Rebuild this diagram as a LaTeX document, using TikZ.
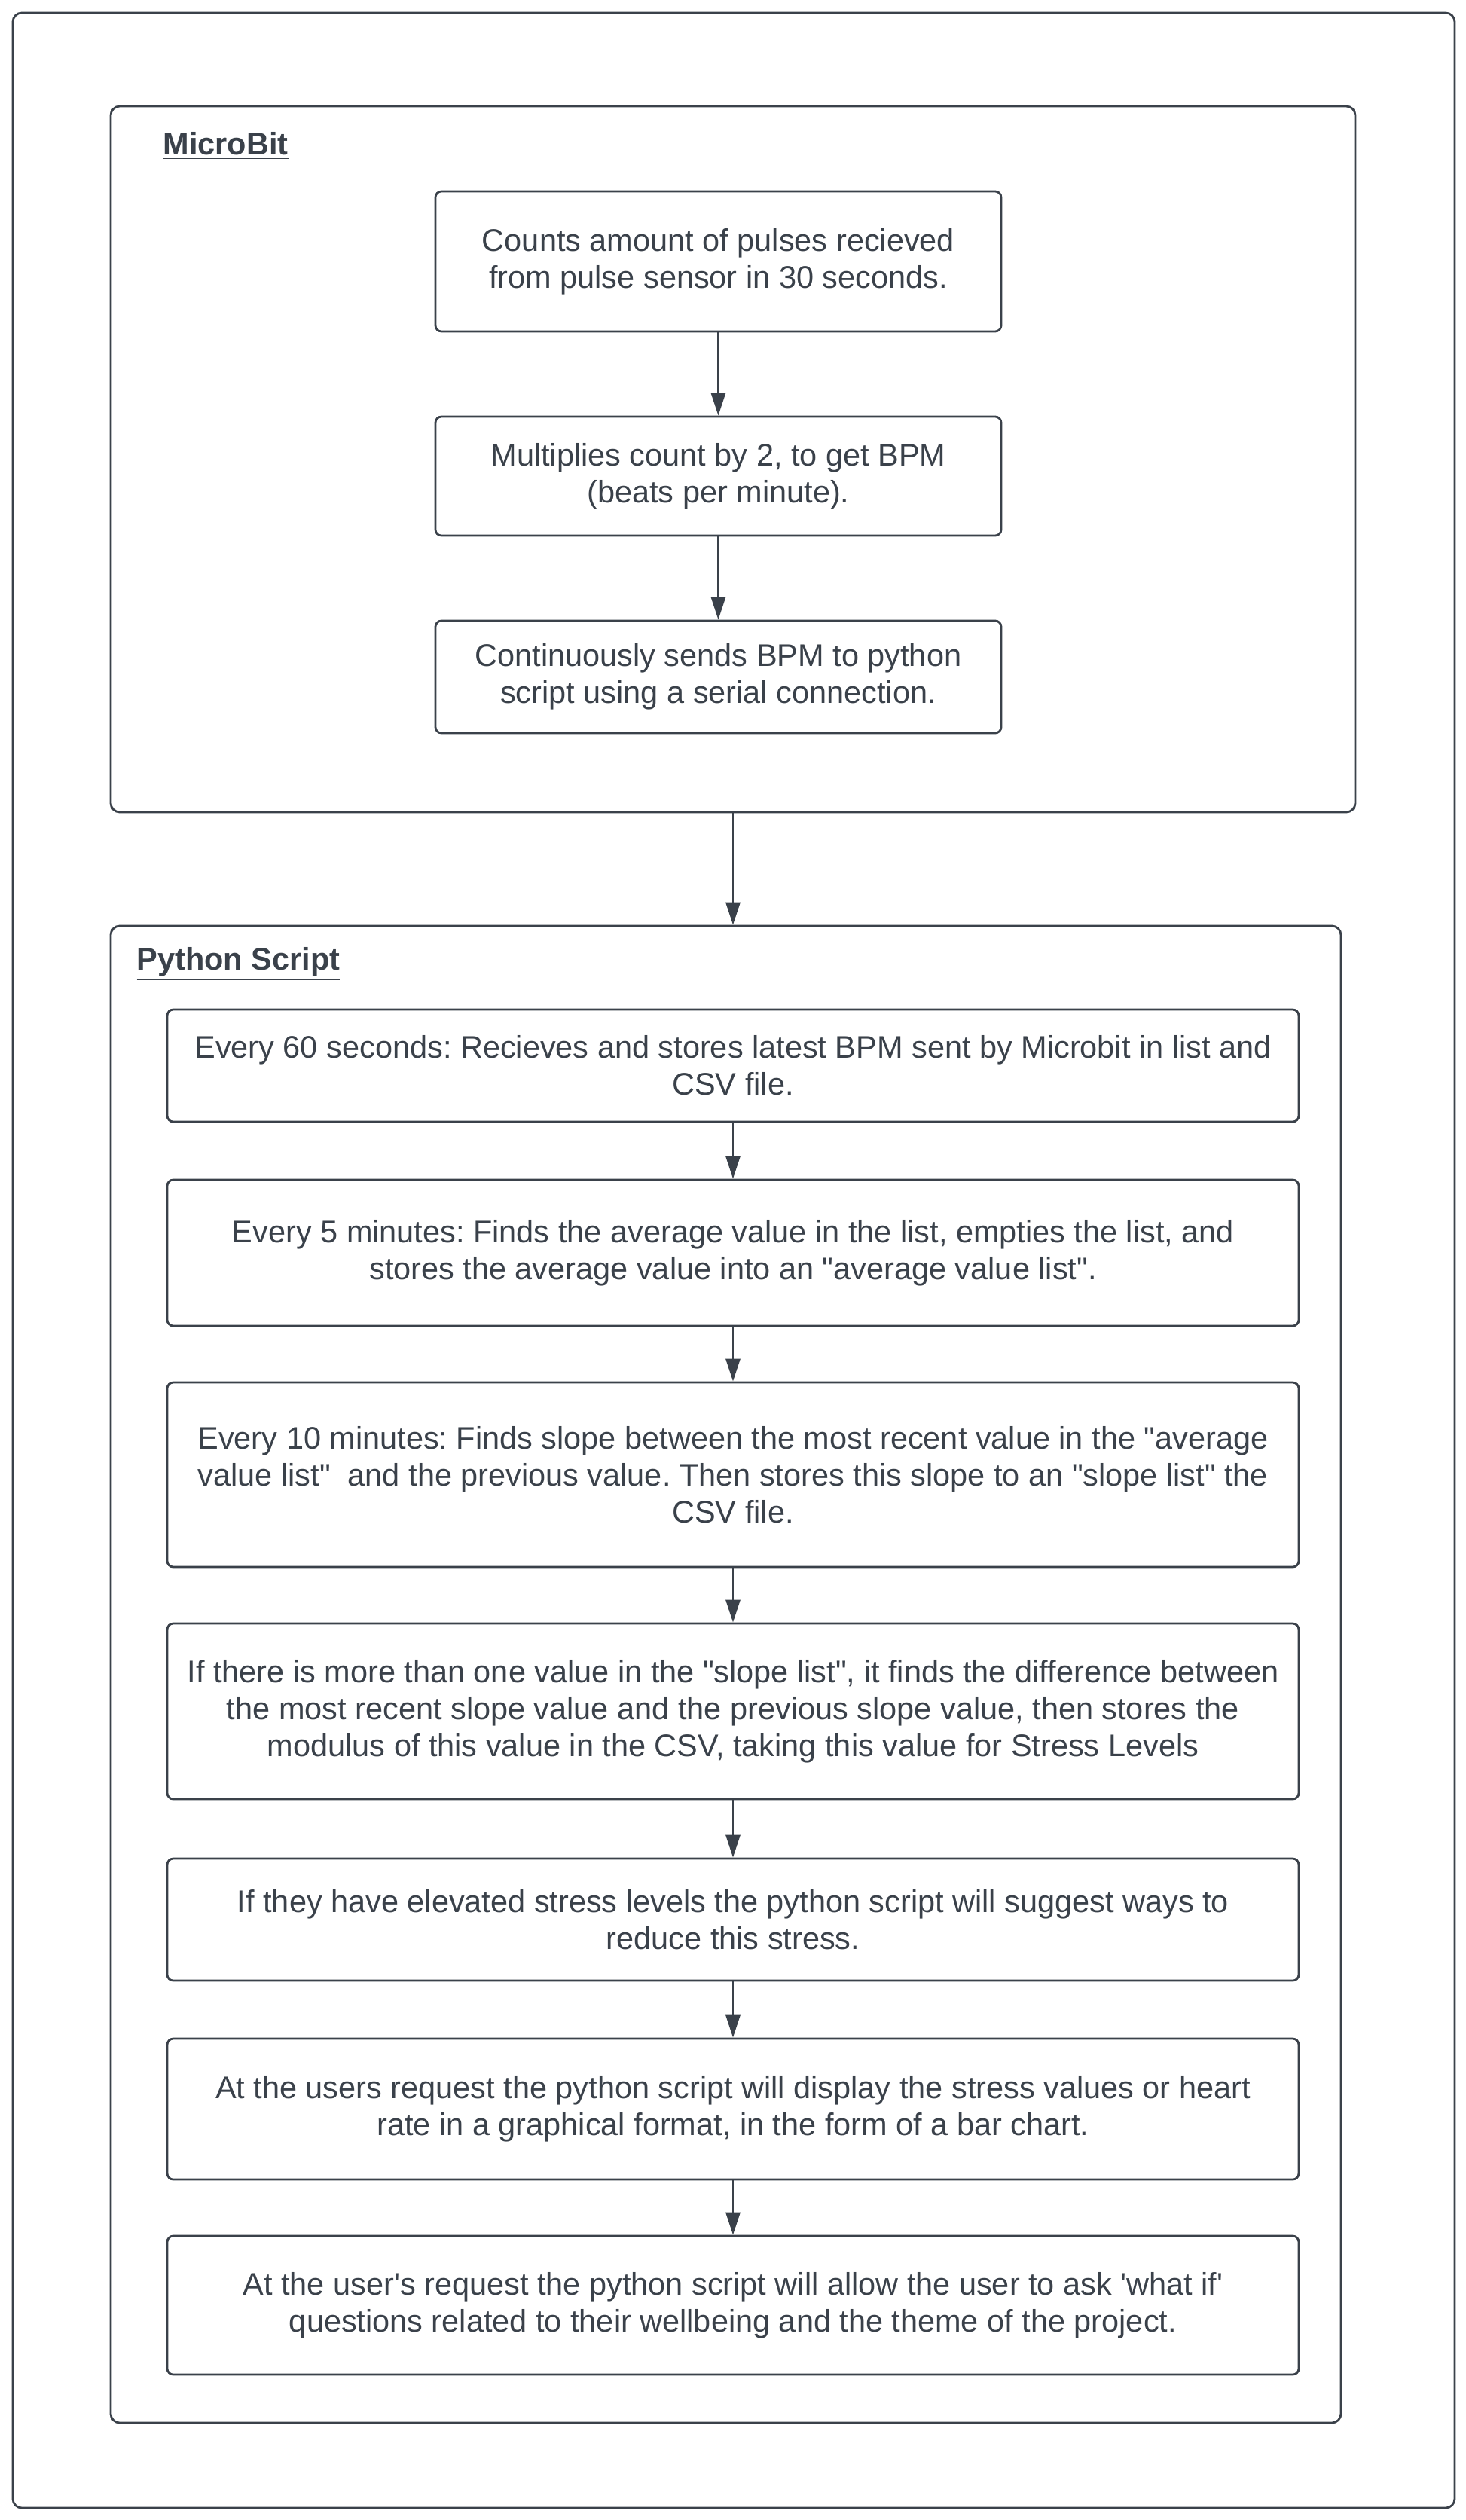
\documentclass[tikz,border=0pt]{standalone}
\usepackage{fontspec}
\setmainfont[Ligatures=TeXOff]{Liberation Sans}
\frenchspacing
\usetikzlibrary{arrows.meta}
\definecolor{ink}{RGB}{58,65,74}

\begin{document}
\begin{tikzpicture}[x=1cm, y=1cm,
    stepbox/.style={draw=ink, line width=0.8pt, rectangle, rounded corners=0.08cm, align=center, text=ink, inner sep=0pt, font=\fontsize{11.8}{14}\selectfont},
    groupbox/.style={draw=ink, line width=0.8pt, rectangle, rounded corners=0.12cm, inner sep=0pt},
    grouptitle/.style={anchor=west, text=ink, inner sep=0pt, font=\fontsize{11.8}{14}\selectfont\bfseries},
    flow/.style={draw=ink, line width=0.8pt, -{Triangle[length=0.3cm, width=0.19cm]}}]
        \useasboundingbox (0,0) rectangle (19.46,-33.45);
        \draw[ink, line width=0.8pt, rounded corners=0.12cm] (0.17,-0.17) rectangle (19.31,-33.29);

        \node (microbit) [groupbox, minimum width=16.52cm, minimum height=9.37cm] at (9.73,-6.095) {};
        \node (mbTitle) [grouptitle] at (2.16,-1.94) {\underline{MicroBit}};
        \node (conta) [stepbox, minimum width=7.51cm, minimum height=1.86cm] at (9.535,-3.47) {Counts amount of pulses recieved\\from pulse sensor in 30 seconds.};
        \node (moltiplica) [stepbox, minimum width=7.51cm, minimum height=1.58cm] at (9.535,-6.32) {Multiplies count by 2, to get BPM\\(beats per minute).};
        \node (invia) [stepbox, minimum width=7.51cm, minimum height=1.49cm] at (9.535,-8.985) {Continuously sends BPM to python\\script using a serial connection.};

        \node (python) [groupbox, minimum width=16.33cm, minimum height=19.87cm] at (9.635,-22.225) {};
        \node (pyTitle) [grouptitle] at (1.81,-12.80) {\underline{Python Script}};
        \node (ricevi) [stepbox, minimum width=15.02cm, minimum height=1.49cm] at (9.73,-14.145) {Every 60 seconds: Recieves and stores latest BPM sent by Microbit in list and\\CSV file.};
        \node (media) [stepbox, minimum width=15.02cm, minimum height=1.94cm] at (9.73,-16.63) {Every 5 minutes: Finds the average value in the list, empties the list, and\\stores the average value into an "average value list".};
        \node (pendenza) [stepbox, minimum width=15.02cm, minimum height=2.45cm] at (9.73,-19.575) {Every 10 minutes: Finds slope between the most recent value in the "average\\value list"\ \ and the previous value. Then stores this slope to an "slope list" the\\CSV file.};
        \node (stress) [stepbox, minimum width=15.02cm, minimum height=2.33cm] at (9.73,-22.715) {If there is more than one value in the "slope list", it finds the difference between\\the most recent slope value and the previous slope value, then stores the\\modulus of this value in the CSV, taking this value for Stress Levels};
        \node (suggerisci) [stepbox, minimum width=15.02cm, minimum height=1.62cm] at (9.73,-25.48) {If they have elevated stress levels the python script will suggest ways to\\reduce this stress.};
        \node (grafico) [stepbox, minimum width=15.02cm, minimum height=1.87cm] at (9.73,-27.995) {At the users request the python script will display the stress values or heart\\rate in a graphical format, in the form of a bar chart.};
        \node (domande) [stepbox, minimum width=15.02cm, minimum height=1.84cm] at (9.73,-30.60) {At the user's request the python script will allow the user to ask 'what if'\\questions related to their wellbeing and the theme of the project.};

        \draw[flow] (conta) -- (moltiplica);
        \draw[flow] (moltiplica) -- (invia);
        \draw[flow] (microbit.south) -- (microbit.south |- python.north);
        \draw[flow] (ricevi) -- (media);
        \draw[flow] (media) -- (pendenza);
        \draw[flow] (pendenza) -- (stress);
        \draw[flow] (stress) -- (suggerisci);
        \draw[flow] (suggerisci) -- (grafico);
        \draw[flow] (grafico) -- (domande);
    \end{tikzpicture}
\end{document}
